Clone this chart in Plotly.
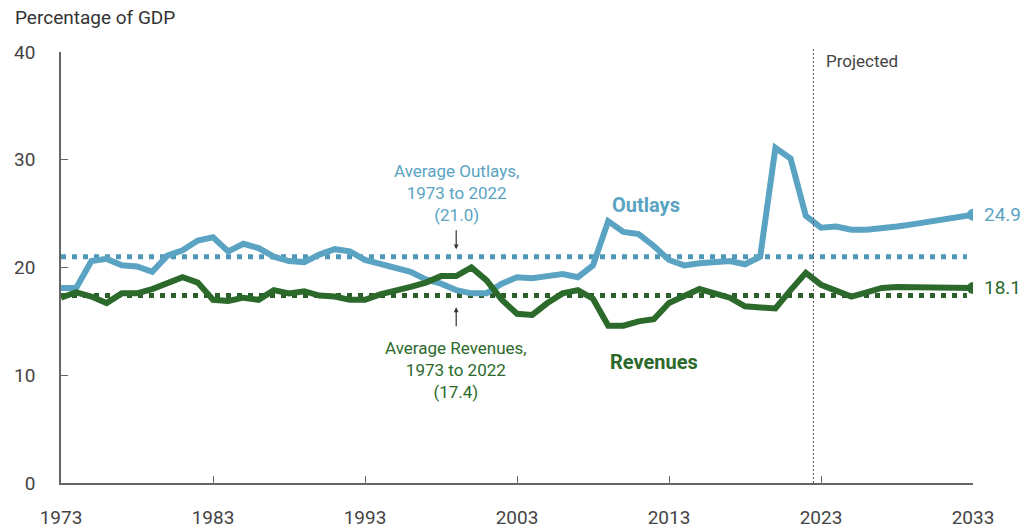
import plotly.graph_objects as go

years = list(range(1973, 2034))

outlays = [18.1, 18.1, 20.6, 20.8, 20.2, 20.1, 19.6, 21.1, 21.6, 22.5,
           22.8, 21.5, 22.2, 21.8, 21.0, 20.6, 20.5, 21.2, 21.7, 21.5,
           20.7, 20.3, 20.0, 19.6, 18.9, 18.5, 17.9, 17.6, 17.6, 18.5,
           19.1, 19.0, 19.2, 19.4, 19.1, 20.2, 24.3, 23.3, 23.1, 22.0,
           20.7, 20.2, 20.4, 20.5, 20.6, 20.3, 21.0, 31.1, 30.1, 24.8,
           23.7, 23.8, 23.5, 23.5, 23.6, 23.8, 24.0, 24.2, 24.4, 24.7, 24.9]

revenues = [17.2, 17.7, 17.3, 16.7, 17.6, 17.6, 18.0, 18.5, 19.1, 18.6,
            17.0, 16.9, 17.2, 17.0, 17.9, 17.6, 17.8, 17.4, 17.3, 17.0,
            17.0, 17.5, 17.8, 18.2, 18.6, 19.2, 19.2, 20.0, 18.8, 17.0,
            15.7, 15.6, 16.7, 17.6, 17.9, 17.1, 14.6, 14.6, 15.0, 15.2,
            16.7, 17.4, 18.0, 17.6, 17.2, 16.4, 16.3, 16.2, 17.9, 19.5,
            18.4, 17.9, 17.3, 17.7, 18.1, 18.2, 18.2, 18.2, 18.2, 18.1, 18.1]

avg_years = [1973, 2032.6]
avg_outlays = 21.0
avg_revenues = 17.4
projection_start = 2022.5

x_ticks = [1973, 1983, 1993, 2003, 2013, 2023, 2033]
y_ticks = [0, 10, 20, 30, 40]

BLUE = "#5AA3C3"
BLUE_DOT = "#4F97B8"
GREEN = "#2C6A2C"
GREEN_DOT = "#2B5E2B"
GRAY = "#444444"
FONT = "Roboto"

fig = go.Figure()

fig.add_trace(go.Scatter(x=avg_years, y=[avg_outlays] * 2, mode="lines",
                         line=dict(color=BLUE_DOT, width=5, dash="5px,6px"),
                         hoverinfo="skip"))
fig.add_trace(go.Scatter(x=avg_years, y=[avg_revenues] * 2, mode="lines",
                         line=dict(color=GREEN_DOT, width=5, dash="5px,6px"),
                         hoverinfo="skip"))

fig.add_trace(go.Scatter(x=years, y=outlays, mode="lines",
                         line=dict(color=BLUE, width=6)))
fig.add_trace(go.Scatter(x=years, y=revenues, mode="lines",
                         line=dict(color=GREEN, width=6)))

fig.add_trace(go.Scatter(x=[years[-1]], y=[outlays[-1]], mode="markers",
                         marker=dict(color=BLUE, size=12)))
fig.add_trace(go.Scatter(x=[years[-1]], y=[revenues[-1]], mode="markers",
                         marker=dict(color=GREEN, size=12)))

fig.add_shape(type="line", x0=projection_start, x1=projection_start,
              yref="paper", y0=0, y1=1.01,
              line=dict(color="#555555", width=1, dash="2px,2px"))

ann = []
ann.append(dict(x=years[-1], y=outlays[-1], text=f"{outlays[-1]:.1f}",
                xanchor="left", xshift=9, showarrow=False,
                font=dict(color=BLUE, size=19, family=FONT)))
ann.append(dict(x=years[-1], y=revenues[-1], text=f"{revenues[-1]:.1f}",
                xanchor="left", xshift=9, showarrow=False,
                font=dict(color=GREEN, size=19, family=FONT)))
ann.append(dict(x=projection_start, y=39.2, text="Projected", xanchor="left",
                xshift=11, showarrow=False,
                font=dict(color=GRAY, size=17, family=FONT)))
ann.append(dict(x=1999, y=26.9,
                text="Average Outlays,<br>1973 to 2022<br>(21.0)",
                showarrow=False, align="center",
                font=dict(color=BLUE, size=17, family=FONT)))
ann.append(dict(x=1999, y=10.5,
                text="Average Revenues,<br>1973 to 2022<br>(17.4)",
                showarrow=False, align="center",
                font=dict(color=GREEN, size=17, family=FONT)))
ann.append(dict(x=1999, y=21.7, ax=1999, ay=23.6, axref="x", ayref="y",
                text="", showarrow=True, arrowhead=2, arrowsize=0.8,
                arrowwidth=1.2, arrowcolor="#333333"))
ann.append(dict(x=1999, y=16.3, ax=1999, ay=14.4, axref="x", ayref="y",
                text="", showarrow=True, arrowhead=2, arrowsize=0.8,
                arrowwidth=1.2, arrowcolor="#333333"))
ann.append(dict(x=2011.5, y=25.8, text="<b>Outlays</b>", showarrow=False,
                font=dict(color=BLUE, size=20, family=FONT)))
ann.append(dict(x=2012.0, y=11.2, text="<b>Revenues</b>", showarrow=False,
                font=dict(color=GREEN, size=20, family=FONT)))
ann.append(dict(xref="paper", yref="paper", x=-0.053, y=1.0, yshift=35,
                yanchor="middle", text="Percentage of GDP", xanchor="left",
                showarrow=False,
                font=dict(color="#333333", size=19, family=FONT)))

fig.update_layout(
    width=1029, height=529,
    margin=dict(l=61, r=56, t=52, b=46, autoexpand=False),
    paper_bgcolor="white", plot_bgcolor="white",
    showlegend=False,
    annotations=ann,
    font=dict(family=FONT, color=GRAY),
    xaxis=dict(range=[1973, 2033], tickvals=x_ticks, ticktext=[str(v) for v in x_ticks],
               showgrid=False, zeroline=False, showline=True, automargin=False,
               linecolor="#666666", linewidth=1.5,
               ticks="inside", ticklen=7, tickcolor="#666666", tickwidth=1.2,
               tickfont=dict(size=19, color=GRAY, family=FONT),
               ticklabelstandoff=16),
    yaxis=dict(range=[0, 40], tickvals=y_ticks,
               showgrid=False, zeroline=False, showline=True, automargin=False,
               linecolor="#666666", linewidth=1.5,
               ticks="inside", ticklen=7, tickcolor="#666666", tickwidth=1.2,
               tickfont=dict(size=19, color=GRAY, family=FONT),
               ticklabelstandoff=20),
)

fig.write_html("out.html", config={"displayModeBar": False},
               post_script="document.body.style.margin='0';document.body.style.overflow='hidden';")
